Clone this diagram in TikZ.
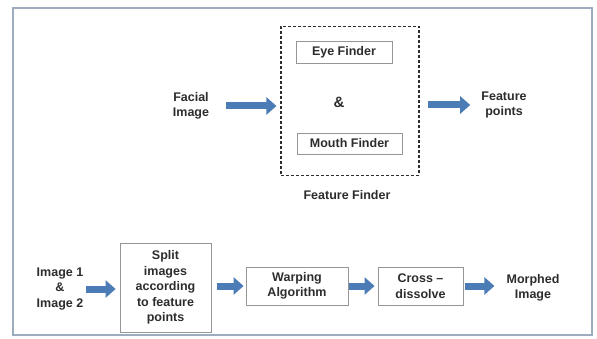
\documentclass[tikz,border=0pt]{standalone}
\usepackage{fontspec}
\setmainfont{Liberation Sans}
\usepackage{tikz,xcolor}
\usetikzlibrary{arrows.meta, positioning, shapes.geometric}
\definecolor{arrowblue}{RGB}{76,124,182}
\definecolor{boxgray}{RGB}{150,150,150}
\definecolor{txtgray}{RGB}{45,45,45}
\definecolor{framecolor}{RGB}{158,172,192}

\begin{document}
\begin{tikzpicture}[x=1pt, y=-1pt,
		base/.style = {font=\bfseries\fontsize{12.5}{15.5}\selectfont, text=txtgray, align=center, inner sep=0pt},
		box/.style = {rectangle, base, draw=boxgray, line width=0.8pt},
		blk/.style = {draw=arrowblue, line width=7pt, -{Triangle[length=10pt,width=17pt]}}
		]
		\useasboundingbox[fill=white] (0,0) rectangle (597,339);
		\draw[framecolor, line width=1.6pt] (13,8) rectangle (592,335);
		
		% face features
		\node (A) [base] at (191,106) {Facial\\Image};
		\node (D) [rectangle, draw=txtgray, densely dashed, line width=1.1pt, minimum width=138pt, minimum height=149pt] at (350,101) {};
		\node (E) [box, minimum width=96pt, minimum height=22pt] at (344,52) {Eye Finder};
		\node (G) [base, font=\bfseries\fontsize{15}{15}\selectfont] at (339,102) {\&};
		\node (M) [box, minimum width=105pt, minimum height=21pt] at (349.5,143.5) {Mouth Finder};
		\node (F) [base] at (504,105) {Feature\\points};
		\node (L) [base] at (347,195) {Feature Finder};
		
		\draw[blk, shorten <=17pt, shorten >=4pt] (A.east) -- (A.east -| D.west);
		\draw[blk, shorten <=8pt, shorten >=11pt] (D.east |- F.west) -- (F.west);
		
		% morphing
		\node (I) [base] at (60,289) {Image 1\\\&\\Image 2};
		\node (S) [box, minimum width=91pt, minimum height=89pt] at (165.5,287.5) {Split\\images\\according\\to feature\\points};
		\node (W) [box, minimum width=102pt, minimum height=38pt] at (297,286) {Warping\\Algorithm};
		\node (C) [box, minimum width=85pt, minimum height=38pt] at (420.5,286) {Cross --\\dissolve};
		\node (O) [base] at (533,288) {Morphed\\Image};
		
		\draw[blk, shorten <=3pt, shorten >=4pt] (I.east) -- (I.east -| S.west);
		\draw[blk, shorten <=6pt, shorten >=2pt] (S.east |- W.west) -- (W.west);
		\draw[blk, shorten <=1pt, shorten >=3pt] (W.east) -- (C.west);
		\draw[blk, shorten <=2pt, shorten >=12pt] (C.east) -- (C.east -| O.west);
	\end{tikzpicture}
\end{document}
